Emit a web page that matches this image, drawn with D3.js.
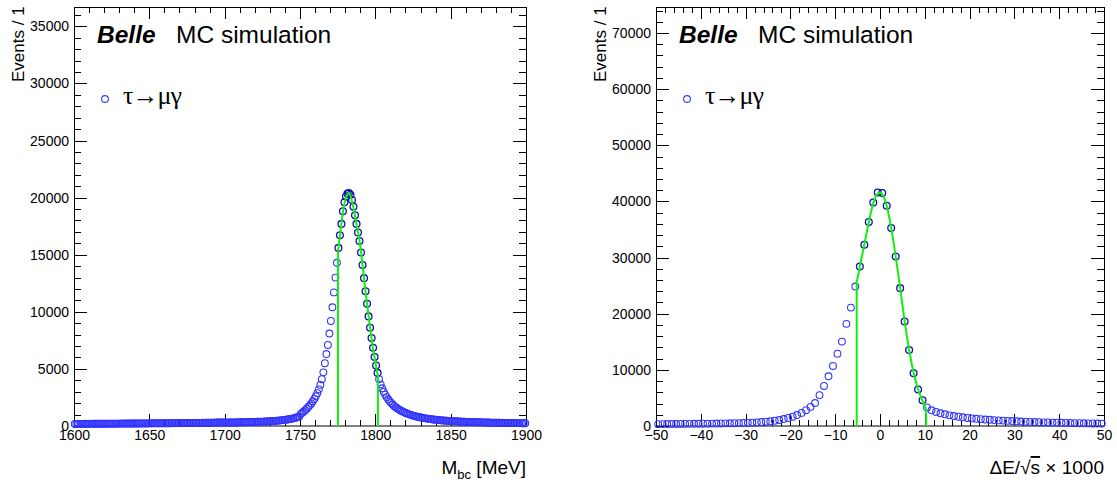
<!DOCTYPE html>
<html>
<head>
<meta charset="utf-8">
<script src="https://cdn.jsdelivr.net/npm/d3@7"></script>
<style>
body { margin: 0; background: #fff; }
text { font-family: "Liberation Sans", Arial, Helvetica, sans-serif; fill: #000; }
.tick line { stroke: #000; shape-rendering: crispEdges; }
.tick text { font-size: 14px; }
</style>
</head>
<body>
<div id="chart"></div>
<script>
// --- data ---
// M_bc histogram, 1 MeV bins starting at 1600
const mbcBinStart = 1600
const mbcCounts = [
  180, 175, 185, 190, 178, 183, 188, 192, 186, 190,
  193, 188, 195, 198, 191, 196, 200, 194, 199, 203,
  197, 202, 206, 200, 205, 209, 203, 208, 212, 206,
  211, 215, 209, 214, 218, 212, 217, 221, 215, 220,
  224, 218, 223, 227, 222, 226, 230, 225, 229, 233,
  228, 232, 236, 231, 235, 240, 234, 239, 243, 238,
  242, 247, 241, 246, 251, 245, 250, 255, 249, 254,
  259, 253, 258, 263, 257, 262, 267, 262, 267, 272,
  266, 272, 277, 271, 277, 283, 278, 284, 290, 285,
  291, 297, 292, 299, 305, 300, 307, 313, 309, 316,
  300, 296, 304, 308, 305, 312, 316, 313, 320, 324,
  322, 330, 334, 331, 340, 345, 343, 351, 356, 355,
  364, 370, 369, 378, 385, 386, 395, 403, 405, 416,
  426, 431, 444, 452, 462, 475, 487, 498, 513, 528,
  545, 565, 585, 610, 638, 668, 702, 740, 784, 834,
  1060, 1160, 1270, 1390, 1520, 1660, 1810, 1980, 2170, 2370,
  2600, 2880, 3210, 3600, 4100, 4700, 5500, 6300, 7100, 8100,
  9200, 10400, 11700, 13000, 14300, 15600, 16700, 17700, 18800, 19600,
  20100, 20350, 20400, 20250, 19800, 19200, 18450, 17700, 16950, 16200,
  15200, 14100, 12950, 11800, 10700, 9600, 8600, 7700, 6850, 6050,
  5300, 4650, 4100, 3650, 3300, 3000, 2750, 2530, 2340, 2170,
  2020, 1880, 1760, 1650, 1550, 1460, 1380, 1310, 1240, 1180,
  1120, 1070, 1020, 975, 935, 895, 860, 825, 795, 765,
  740, 712, 690, 668, 645, 626, 606, 590, 572, 558,
  542, 530, 516, 505, 492, 482, 470, 461, 450, 442,
  432, 425, 416, 410, 401, 396, 388, 383, 376, 371,
  365, 360, 354, 350, 344, 340, 335, 331, 326, 323,
  318, 315, 311, 308, 304, 301, 298, 295, 292, 289,
  286, 284, 281, 278, 276, 273, 271, 269, 266, 264,
  262, 260, 258, 255, 253, 251, 249, 247, 245, 243
]
const mbcFitX = [1775.2, 1776.6, 1778, 1779.5, 1781, 1782.3, 1783.5, 1785, 1786.5, 1788, 1789.8, 1791.5, 1793.1, 1794.8, 1796.4, 1798, 1800, 1801.7]
const mbcFitY = [15300, 16800, 18300, 19500, 20150, 20400, 20150, 19400, 18400, 17300, 16000, 14100, 12200, 10400, 8700, 7200, 5600, 4400]
const mbcXTicks = [1600, 1650, 1700, 1750, 1800, 1850, 1900]
const mbcYTicks = [0, 5000, 10000, 15000, 20000, 25000, 30000, 35000]

// dE/sqrt(s) x 1000 histogram, bins of 1 starting at -50
const deBinStart = -50
const deCounts = [
  330, 340, 345, 350, 360, 365, 370, 380, 390, 400,
  410, 420, 430, 440, 455, 470, 480, 495, 510, 530,
  560, 600, 640, 700, 770, 840, 940, 1070, 1240, 1430,
  1660, 1950, 2330, 2820, 3400, 4100, 5500, 7130, 8850, 10700,
  12890, 15030, 18190, 21090, 24840, 28400, 32270, 36320, 39820, 41600,
  41490, 39230, 35250, 30190, 24550, 18600, 13550, 9400, 6500, 4580,
  3300, 2800, 2500, 2260, 2080, 1900, 1780, 1660, 1550, 1430,
  1350, 1280, 1220, 1160, 1100, 1050, 1000, 960, 920, 880,
  840, 800, 770, 740, 710, 680, 650, 630, 610, 590,
  570, 550, 530, 510, 495, 480, 465, 450, 440, 430
]
const deFitX = [-5.2, -4.5, -3.5, -2.5, -1.5, -0.5, 0, 0.5, 1.5, 2.5, 3.5, 4.5, 5.5, 6.5, 7.5, 8.5, 9.5, 10.3]
const deFitY = [25600, 28400, 32300, 36300, 39700, 41400, 41600, 41300, 39200, 35300, 30200, 24600, 18700, 13600, 9500, 6500, 4500, 3100]
const deXTicks = [-50, -40, -30, -20, -10, 0, 10, 20, 30, 40, 50]
const deYTicks = [0, 10000, 20000, 30000, 40000, 50000, 60000, 70000]

const width = 1117
const height = 485

let svg = d3.select('div#chart').append('svg').attr('width', width).attr('height', height)

function drawPanel(p) {
    let g = svg.append('g').attr('id', p.id)
    let x = d3.scaleLinear().domain(p.xDomain).range([p.left, p.right])
    let y = d3.scaleLinear().domain(p.yDomain).range([p.bottom, p.top])

    let xMinor = d3.range(p.xDomain[0], p.xDomain[1] + 1e-9, p.xMinorStep).filter(v => !p.xTicks.includes(v))
    let yMinor = d3.range(0, p.yDomain[1], p.yMinorStep).filter(v => !p.yTicks.includes(v))

    // frame
    g.append('path')
        .attr('d', `M${p.left + 0.5},${p.bottom}V${p.top + 0.5}H${p.right + 0.5}V${p.bottom}`)
        .attr('fill', 'none').attr('stroke', '#000').attr('shape-rendering', 'crispEdges')
    g.append('line')
        .attr('x1', p.left).attr('x2', p.right + 1).attr('y1', p.bottom).attr('y2', p.bottom)
        .attr('stroke', '#000')

    // ticks pointing inward on all four sides
    let axes = [
        [d3.axisBottom(x).tickValues(p.xTicks).tickSize(-12).tickPadding(4).tickFormat(d3.format('d')), `translate(0,${p.bottom})`],
        [d3.axisBottom(x).tickValues(xMinor).tickSize(-6).tickFormat(''), `translate(0,${p.bottom})`],
        [d3.axisTop(x).tickValues(p.xTicks).tickSize(-12).tickFormat(''), `translate(0,${p.top})`],
        [d3.axisTop(x).tickValues(xMinor).tickSize(-6).tickFormat(''), `translate(0,${p.top})`],
        [d3.axisLeft(y).tickValues(p.yTicks).tickSize(-13).tickPadding(5).tickFormat(d3.format('d')), `translate(${p.left},0)`],
        [d3.axisLeft(y).tickValues(yMinor).tickSize(-7).tickFormat(''), `translate(${p.left},0)`],
        [d3.axisRight(y).tickValues(p.yTicks).tickSize(-13).tickFormat(''), `translate(${p.right},0)`],
        [d3.axisRight(y).tickValues(yMinor).tickSize(-7).tickFormat(''), `translate(${p.right},0)`]
    ]
    axes.forEach(a => {
        let ag = g.append('g').attr('transform', a[1]).call(a[0])
        ag.select('.domain').remove()
        ag.attr('font-family', null).attr('font-size', null)
    })
    g.selectAll('.tick text').attr('fill', '#000')

    // histogram points
    let inFit = c => c >= p.fitX[0] && c <= p.fitX[p.fitX.length - 1]
    g.append('g').selectAll('circle')
        .data(p.counts)
        .join('circle')
        .attr('cx', (d, i) => x(p.binStart + i + 0.5))
        .attr('cy', d => y(d))
        .attr('r', 3.4)
        .attr('fill', 'none')
        .attr('stroke', (d, i) => inFit(p.binStart + i + 0.5) ? '#1212a8' : '#3434ff')
        .attr('stroke-width', (d, i) => inFit(p.binStart + i + 0.5) ? 1.3 : 1.1)

    // fit curve with vertical edges
    let fit = p.fitX.map((v, i) => [v, p.fitY[i]])
    let n = fit.length - 1
    g.append('path')
        .attr('d', d3.line().x(d => x(d[0])).y(d => y(d[1])).curve(d3.curveMonotoneX)(fit))
        .attr('fill', 'none').attr('stroke', '#10f010').attr('stroke-width', 2)
    ;[[fit[0][0], fit[0][1]], [fit[n][0], fit[n][1]]].forEach(e => {
        g.append('path')
            .attr('d', d3.line().x(d => x(d[0])).y(d => y(d[1]))([[e[0], 0], e]))
            .attr('stroke', '#10f010').attr('stroke-width', 2)
    })

    // labels
    g.append('text')
        .attr('transform', `translate(${p.left - 50},${p.top + 75}) rotate(-90)`)
        .attr('font-size', 17).text('Events / 1')
    g.append('text').attr('x', p.left + 23).attr('y', 43)
        .attr('font-size', 24.5).attr('font-weight', 'bold').attr('font-style', 'italic').text('Belle')
    g.append('text').attr('x', p.left + 102).attr('y', 43)
        .attr('font-size', 24.5).text('MC simulation')

    g.append('circle').attr('cx', p.left + 31).attr('cy', 99).attr('r', 3.4)
        .attr('fill', 'none').attr('stroke', '#3434ff').attr('stroke-width', 1.1)
    g.append('text').attr('x', p.left + 49).attr('y', 104)
        .style('font-family', '"Liberation Serif", "DejaVu Serif", serif')
        .attr('font-size', 26).attr('letter-spacing', -1).text('τ→μγ')

    let t = g.append('text').attr('x', p.right).attr('y', 474).attr('text-anchor', 'end').attr('font-size', 19)
    p.xTitle(t)
}

drawPanel({
    id: 'mbc', left: 74, right: 526, top: 7, bottom: 426,
    xDomain: [1600, 1900], yDomain: [0, 36700],
    xTicks: mbcXTicks, yTicks: mbcYTicks, xMinorStep: 10, yMinorStep: 1000,
    binStart: mbcBinStart, counts: mbcCounts, fitX: mbcFitX, fitY: mbcFitY,
    xTitle: t => {
        t.append('tspan').text('M')
        t.append('tspan').attr('font-size', 13).attr('dy', 5).text('bc')
        t.append('tspan').attr('dy', -5).text(' [MeV]')
    }
})

drawPanel({
    id: 'de', left: 656, right: 1104, top: 7, bottom: 426,
    xDomain: [-50, 50], yDomain: [0, 74630],
    xTicks: deXTicks, yTicks: deYTicks, xMinorStep: 2, yMinorStep: 2000,
    binStart: deBinStart, counts: deCounts, fitX: deFitX, fitY: deFitY,
    xTitle: t => {
        t.append('tspan').text('ΔE/√')
        t.append('tspan').style('text-decoration', 'overline').text('s')
        t.append('tspan').text(' × 1000')
    }
})
</script>
</body>
</html>
